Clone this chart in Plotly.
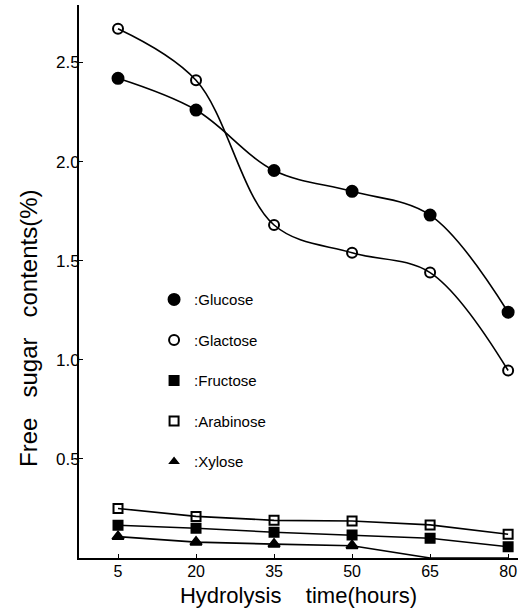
import plotly.graph_objects as go

hours = [5, 20, 35, 50, 65, 80]
tick_vals_y = [0.5, 1.0, 1.5, 2.0, 2.5]
tick_text_y = ["0.5", "1.0", "1.5", "2.0", "2.5"]

glucose = [2.42, 2.26, 1.955, 1.85, 1.73, 1.24]
galactose = [2.67, 2.41, 1.68, 1.54, 1.44, 0.946]
fructose = [0.165, 0.15, 0.13, 0.116, 0.10, 0.057]
arabinose = [0.25, 0.21, 0.19, 0.187, 0.167, 0.12]
xylose = [0.108, 0.08, 0.07, 0.062, 0.0, 0.0]

names = [":Glucose", ":Glactose", ":Fructose", ":Arabinose", ":Xylose"]
series = [glucose, galactose, fructose, arabinose, xylose]
symbols = ["circle", "circle-open", "square", "square-open", "triangle-up"]
msizes = [11, 10, 9, 9, 10]
shapes = ["spline", "spline", "linear", "linear", "linear"]

FONT = "Liberation Sans, Arial, sans-serif"
fig = go.Figure()

for name, ys, sym, ms, shp in zip(names, series, symbols, msizes, shapes):
    fig.add_trace(go.Scatter(
        x=hours, y=ys, mode="lines", line=dict(color="black", width=1.6, shape=shp),
        showlegend=False, hoverinfo="skip"))
    sizes = [ms if v > 0 else 0 for v in ys]
    fig.add_trace(go.Scatter(
        x=hours, y=ys, mode="markers", name=name, legendgroup=name, opacity=1,
        marker=dict(symbol=sym, size=sizes, color="black", opacity=1,
                    line=dict(color="black", width=2)),
        cliponaxis=False))

fig.update_layout(
    width=521, height=616,
    margin=dict(l=79, r=3, t=5, b=58),
    paper_bgcolor="white", plot_bgcolor="white",
    font=dict(family=FONT, color="black"),
    showlegend=True,
    legend=dict(x=0.171, y=0.497, xanchor="left", yanchor="top",
                bgcolor="rgba(0,0,0,0)", font=dict(size=15, family=FONT),
                tracegroupgap=18, itemsizing="trace"),
    xaxis=dict(range=[-2.5, 81.9], tickvals=hours, ticktext=[str(h) for h in hours],
               showgrid=False, zeroline=False, showline=True, linecolor="black",
               linewidth=2, ticks="inside", ticklen=4, tickcolor="black",
               tickfont=dict(size=16), ticklabelstandoff=-2,
               title=dict(text="Hydrolysis\u00a0\u00a0\u00a0 time(hours)",
                          font=dict(size=22), standoff=8)),
    yaxis=dict(range=[0, 2.79], tickvals=tick_vals_y, ticktext=tick_text_y,
               showgrid=False, zeroline=False, showline=True, linecolor="black",
               linewidth=2, ticks="inside", ticklen=4, tickcolor="black",
               tickfont=dict(size=17), ticklabelstandoff=-6),
    annotations=[dict(text="Free\u00a0\u00a0 sugar\u00a0\u00a0 contents(%)", textangle=-90,
                      xref="paper", yref="paper", x=-0.08, y=0.415,
                      xanchor="right", yanchor="middle", showarrow=False,
                      font=dict(size=24, family=FONT))],
)

fig.write_html("out.html", config={"displayModeBar": False},
               post_script="document.body.style.margin='0px';")
